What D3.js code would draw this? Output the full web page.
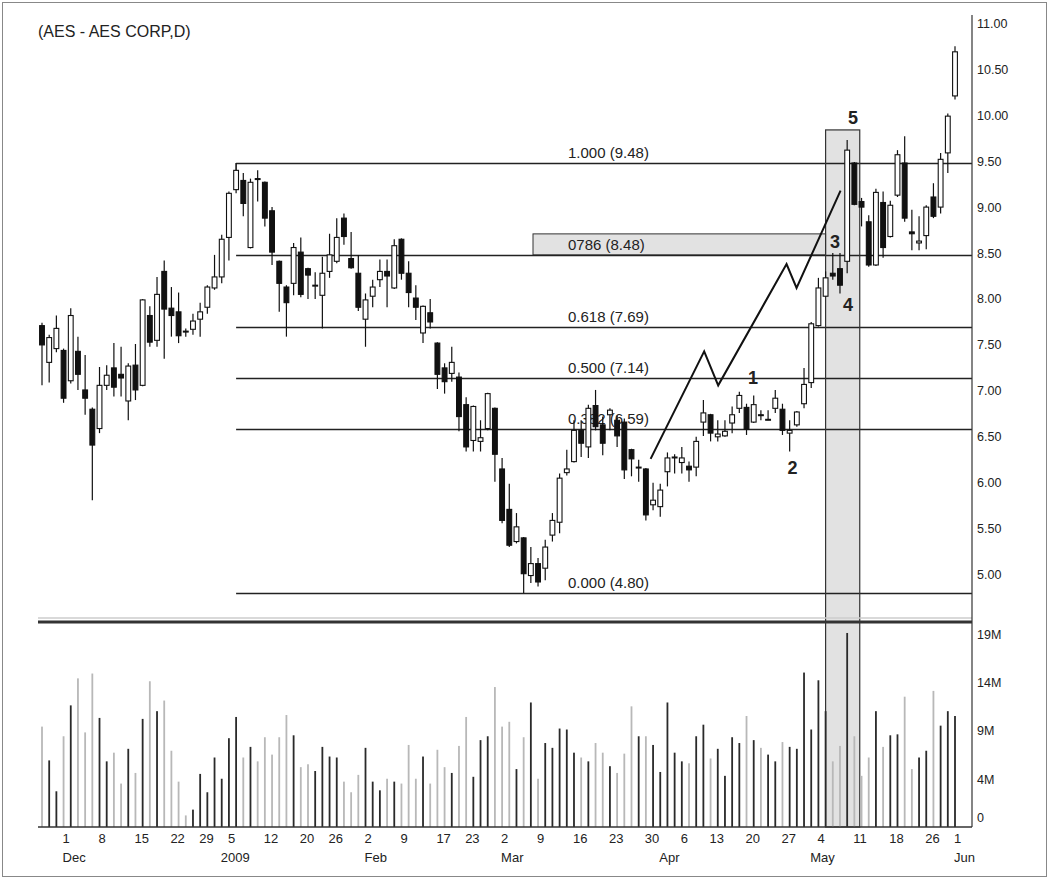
<!DOCTYPE html>
<html>
<head>
<meta charset="utf-8">
<script src="https://cdn.jsdelivr.net/npm/d3@7"></script>
<style>
body { margin: 0; background: #fff; }
svg text { font-family: "Liberation Sans", Arial, Helvetica, sans-serif; fill: #222; }
</style>
</head>
<body>
<svg id="chart" width="1050" height="880"></svg>
<script>
// daily bars, Nov 25 2008 .. Jun 1 2009 (index 0..127)
const opens = [7.71,7.31,7.46,7.44,7.11,7.43,7.01,6.80,6.59,7.06,
  7.25,7.18,6.89,7.28,7.06,7.82,7.55,8.30,7.90,7.86,
  7.65,7.67,7.78,7.91,8.12,8.24,8.67,9.19,9.29,8.56,
  9.31,9.27,8.96,8.41,8.13,8.17,8.51,8.33,8.14,8.04,
  8.30,8.41,8.88,8.44,8.28,7.78,8.03,8.21,8.30,8.12,
  8.65,8.28,8.01,7.63,7.85,7.52,7.25,7.19,7.15,6.85,
  6.46,6.45,6.59,6.81,6.15,5.71,5.36,5.40,4.99,5.12,
  5.07,5.43,5.57,6.11,6.23,6.57,6.39,6.84,6.63,6.74,
  6.68,6.66,6.36,6.16,6.15,5.76,5.74,6.12,6.27,6.22,
  6.18,6.17,6.66,6.74,6.50,6.51,6.65,6.81,6.82,6.66,
  6.74,6.68,6.81,6.80,6.54,6.63,6.86,7.09,7.71,8.03,
  8.28,8.33,8.41,9.48,9.06,8.84,8.37,9.05,8.68,9.13,
  9.48,8.73,8.61,8.69,9.11,9.00,9.59,10.21];
const highs = [7.74,7.61,7.82,7.46,7.90,7.59,7.39,6.82,7.26,7.28,
  7.52,7.48,7.30,7.51,8.00,7.92,8.24,8.42,8.13,8.07,
  7.68,7.84,7.96,8.15,8.48,8.70,9.17,9.48,9.37,9.31,
  9.40,9.28,9.00,8.42,8.15,8.61,8.67,8.34,8.29,8.46,
  8.71,8.88,8.93,8.73,8.48,8.06,8.21,8.43,8.43,8.65,
  8.66,8.41,8.15,7.93,8.00,7.53,7.30,7.48,7.20,6.93,
  6.84,6.68,6.98,6.82,6.27,5.99,5.67,5.41,5.30,5.18,
  5.38,5.67,6.10,6.36,6.68,6.68,6.85,7.01,6.72,6.81,
  6.73,6.70,6.37,6.25,6.16,6.00,5.99,6.33,6.31,6.39,
  6.23,6.50,6.90,6.75,6.68,6.68,6.83,6.99,6.86,6.95,
  6.79,6.79,7.01,6.86,6.68,6.78,7.25,7.75,8.23,8.30,
  8.50,8.50,9.73,9.49,9.10,8.91,9.20,9.17,9.07,9.62,
  9.77,8.97,8.90,9.02,9.26,9.59,10.02,10.75];
const lows = [7.06,7.09,7.42,6.87,7.08,7.01,6.74,5.81,6.54,7.01,
  6.94,6.94,6.68,6.90,7.05,7.48,7.48,7.35,7.59,7.52,
  7.59,7.61,7.59,7.84,8.10,8.17,8.42,9.15,8.90,8.55,
  9.06,8.79,8.37,7.86,7.59,8.04,8.02,8.00,8.00,7.68,
  8.23,8.39,8.59,8.33,7.87,7.48,7.91,8.13,7.91,8.11,
  8.21,7.91,7.77,7.52,7.68,7.02,6.97,7.10,6.56,6.34,
  6.34,6.34,6.57,6.01,5.56,5.30,5.34,4.80,4.91,4.87,
  4.94,5.36,5.45,6.08,6.22,6.28,6.27,6.57,6.30,6.57,
  6.39,6.04,6.07,6.01,5.59,5.70,5.63,5.96,6.10,6.10,
  6.01,6.07,6.51,6.45,6.45,6.50,6.54,6.76,6.52,6.65,
  6.68,6.68,6.76,6.52,6.34,6.61,6.81,7.03,7.70,8.02,
  8.21,8.06,8.28,9.02,8.79,8.35,8.36,8.45,8.67,9.11,
  8.84,8.53,8.53,8.54,8.88,8.93,9.37,10.17];
const closes = [7.50,7.58,7.68,6.92,7.82,7.18,6.92,6.41,7.06,7.17,
  7.04,7.14,7.27,7.01,7.99,7.53,8.05,7.89,7.82,7.60,
  7.64,7.76,7.86,8.13,8.24,8.65,9.15,9.40,9.04,9.27,
  9.30,8.88,8.51,8.17,7.96,8.56,8.05,8.26,8.15,8.28,
  8.48,8.67,8.68,8.34,7.91,7.99,8.13,8.30,8.25,8.58,
  8.28,8.07,7.91,7.92,7.75,7.18,7.10,7.31,6.72,6.39,
  6.83,6.49,6.97,6.31,5.59,5.32,5.52,5.01,5.12,4.92,
  5.30,5.59,6.05,6.15,6.57,6.43,6.81,6.61,6.43,6.79,
  6.51,6.14,6.26,6.17,5.65,5.81,5.92,6.27,6.28,6.27,
  6.14,6.45,6.76,6.54,6.53,6.56,6.74,6.95,6.58,6.85,
  6.73,6.69,6.92,6.57,6.57,6.77,7.07,7.73,8.12,8.23,
  8.25,8.15,9.62,9.03,9.00,8.37,9.16,8.56,9.02,9.57,
  8.88,8.71,8.63,9.00,8.90,9.52,9.99,10.69];
// volume in millions of shares
const volumes = [10.4,6.9,3.7,9.4,12.6,15.4,9.8,15.9,11.3,6.8,
  7.7,4.5,8.1,5.6,11.2,15.1,12.0,13.1,7.9,4.7,
  1.2,1.8,5.5,3.6,7.2,5.0,9.2,11.4,7.2,8.3,
  6.8,9.3,7.5,9.3,11.6,9.5,6.2,6.5,5.8,8.3,
  7.3,7.2,4.7,3.6,5.4,8.2,4.7,3.8,5.0,4.7,
  4.5,8.5,5.0,7.3,4.5,8.0,6.2,5.6,8.4,11.4,
  5.2,9.0,9.4,14.5,10.4,10.9,6.0,9.3,12.9,5.0,
  8.7,8.2,10.2,10.1,7.7,7.2,6.8,8.7,7.7,6.3,
  5.6,7.6,12.5,9.4,9.4,8.5,5.7,12.9,7.7,6.8,
  6.6,9.4,10.6,7.1,8.1,5.3,9.3,8.7,11.5,9.0,
  8.2,7.5,6.8,8.8,8.3,8.1,16.0,10.1,15.2,12.0,
  6.8,8.4,20.1,9.4,5.3,7.2,12.0,8.3,9.5,9.6,
  13.5,6.0,7.2,7.9,14.1,10.5,12.0,11.5];

const dayTicks = [[3,"1"],[8,"8"],[13,"15"],[18,"22"],[22,"29"],[26,"5"],[31,"12"],[36,"20"],[40,"26"],
  [45,"2"],[50,"9"],[55,"17"],[59,"23"],[64,"2"],[69,"9"],[74,"16"],[79,"23"],[84,"30"],[89,"6"],
  [93,"13"],[98,"20"],[103,"27"],[108,"4"],[113,"11"],[118,"18"],[123,"26"],[127,"1"]];
const monthTicks = [[3,"Dec"],[25,"2009"],[45,"Feb"],[64,"Mar"],[86,"Apr"],[107,"May"],[127,"Jun"]];
const priceTicks = [5,5.5,6,6.5,7,7.5,8,8.5,9,9.5,10,10.5,11];
const volumeTicks = [0,4,9,14,19];

// Fibonacci retracement of the Jan high / Mar low
const fibRatios = ["1.000","0786","0.618","0.500","0.382","0.000"];
const fibPrices = [9.48,8.48,7.69,7.14,6.59,4.80];
const fibStart = 27;

// hand drawn wave path and wave counts
const waveIdx = [84.66,92.11,94.06,103.57,104.96,111.08];
const wavePrice = [6.26,7.43,7.06,8.38,8.12,9.18];
const countLabels = ["1","2","3","4","5"];
const countIdx = [98.9,104.4,110.3,112.1,112.8];
const countPrice = [7.14,6.16,8.62,7.93,9.97];

// highlighted window (bar index range, top price)
const boxFrom = 109, boxTo = 113.75, boxTop = 9.84;

const svg = d3.select("#chart");
const left = 38, axisX = 972, volBase = 827, sepY = 622;

const x = d3.scaleLinear().domain([0, 127]).range([42, 955]);
const y = d3.scaleLinear().domain([4.80, 9.48]).range([593, 163]);
const yv = d3.scaleLinear().domain([0, 19]).range([volBase, 643.6]);

// outer frame
svg.append("rect").attr("x", 2.5).attr("y", 2.5).attr("width", 1044).attr("height", 874)
  .attr("fill", "none").attr("stroke", "#888");

// shaded window
svg.append("rect")
  .attr("x", x(boxFrom)).attr("y", y(boxTop))
  .attr("width", x(boxTo) - x(boxFrom)).attr("height", volBase - y(boxTop))
  .attr("fill", "#e2e2e2");

// label box behind 0.786
svg.append("rect")
  .attr("x", x(68.3)).attr("y", y(fibPrices[1]) - 21)
  .attr("width", x(boxFrom) - x(68.3)).attr("height", 21)
  .attr("fill", "#e2e2e2").attr("stroke", "#333").attr("stroke-width", 1);

// fib lines + labels
const fib = svg.append("g");
fib.selectAll("line").data(fibPrices).join("line")
  .attr("x1", x(fibStart)).attr("x2", axisX)
  .attr("y1", d => Math.round(y(d)) + 0.5).attr("y2", d => Math.round(y(d)) + 0.5)
  .attr("stroke", "#222").attr("stroke-width", 1.3);
fib.selectAll("text").data(fibPrices).join("text")
  .attr("x", 568).attr("y", d => y(d) - 5)
  .attr("font-size", 15)
  .attr("fill", (d, i) => i === 4 ? "#444" : "#222")
  .text((d, i) => fibRatios[i] + " (" + d.toFixed(2) + ")");
// small vertical tick at the swing high
svg.append("line").attr("x1", x(fibStart)).attr("x2", x(fibStart))
  .attr("y1", y(9.48)).attr("y2", y(9.40)).attr("stroke", "#222");

// window outline
svg.append("rect")
  .attr("x", x(boxFrom)).attr("y", y(boxTop))
  .attr("width", x(boxTo) - x(boxFrom)).attr("height", volBase - y(boxTop))
  .attr("fill", "none").attr("stroke", "#333").attr("stroke-width", 1.2);

// volume
const idx = d3.range(opens.length);
svg.append("g").selectAll("rect").data(idx).join("rect")
  .attr("x", i => x(i) - 0.9).attr("width", 1.8)
  .attr("y", i => yv(volumes[i])).attr("height", i => volBase - yv(volumes[i]))
  .attr("fill", i => closes[i] >= opens[i] ? "#2a2a2a" : "#b8b8b8");

// candles
const cg = svg.append("g");
cg.selectAll("line").data(idx).join("line")
  .attr("x1", i => x(i)).attr("x2", i => x(i))
  .attr("y1", i => y(highs[i])).attr("y2", i => y(lows[i]))
  .attr("stroke", "#111").attr("stroke-width", 1.2);
cg.selectAll("rect").data(idx).join("rect")
  .attr("x", i => x(i) - 2.4).attr("width", 4.8)
  .attr("y", i => y(Math.max(opens[i], closes[i])))
  .attr("height", i => Math.max(0.8, Math.abs(y(opens[i]) - y(closes[i]))))
  .attr("fill", i => closes[i] >= opens[i] ? "#fff" : "#111")
  .attr("stroke", "#111").attr("stroke-width", 1.1);

// wave path
svg.append("path")
  .attr("d", d3.line().x(d => x(d[0])).y(d => y(d[1]))(waveIdx.map((v, i) => [v, wavePrice[i]])))
  .attr("fill", "none").attr("stroke", "#111").attr("stroke-width", 2);

svg.append("g").selectAll("text").data(countLabels).join("text")
  .attr("x", (d, i) => x(countIdx[i])).attr("y", (d, i) => y(countPrice[i]) + 6)
  .attr("text-anchor", "middle").attr("font-size", 18).attr("font-weight", "bold")
  .attr("fill", "#111").text(d => d);

// panel separator
svg.append("line").attr("x1", left).attr("x2", axisX).attr("y1", sepY - 4).attr("y2", sepY - 4)
  .attr("stroke", "#ccc").attr("stroke-width", 1.5);
svg.append("line").attr("x1", left).attr("x2", axisX).attr("y1", sepY).attr("y2", sepY)
  .attr("stroke", "#333").attr("stroke-width", 3);

// axes
svg.append("line").attr("x1", axisX).attr("x2", axisX).attr("y1", 15).attr("y2", volBase)
  .attr("stroke", "#333").attr("stroke-width", 1.2);
svg.append("line").attr("x1", left).attr("x2", axisX).attr("y1", volBase).attr("y2", volBase)
  .attr("stroke", "#333").attr("stroke-width", 1.5);

const pa = svg.append("g").attr("transform", `translate(${axisX},0)`)
  .call(d3.axisRight(y).tickValues(priceTicks).tickSize(0).tickPadding(5).tickFormat(d3.format(".2f")));
pa.select(".domain").remove();
pa.selectAll("text").attr("font-size", 12.5).attr("font-family", null).attr("fill", "#222");

const va = svg.append("g").attr("transform", `translate(${axisX},0)`)
  .call(d3.axisRight(yv).tickValues(volumeTicks).tickSize(0).tickPadding(5).tickFormat(v => v ? v + "M" : "0"));
va.select(".domain").remove();
va.selectAll("text").attr("font-size", 12.5).attr("font-family", null).attr("fill", "#222").attr("dy", "-0.42em");

// date labels
svg.append("g").selectAll("text").data(dayTicks).join("text")
  .attr("x", d => x(d[0]) - 1).attr("y", 843).attr("font-size", 13).text(d => d[1]);
svg.append("g").selectAll("text").data(monthTicks).join("text")
  .attr("x", d => x(d[0]) - 1).attr("y", 862).attr("font-size", 13).text(d => d[1]);

svg.append("text").attr("x", left).attr("y", 37).attr("font-size", 16).text("(AES - AES CORP,D)");
</script>
</body>
</html>
